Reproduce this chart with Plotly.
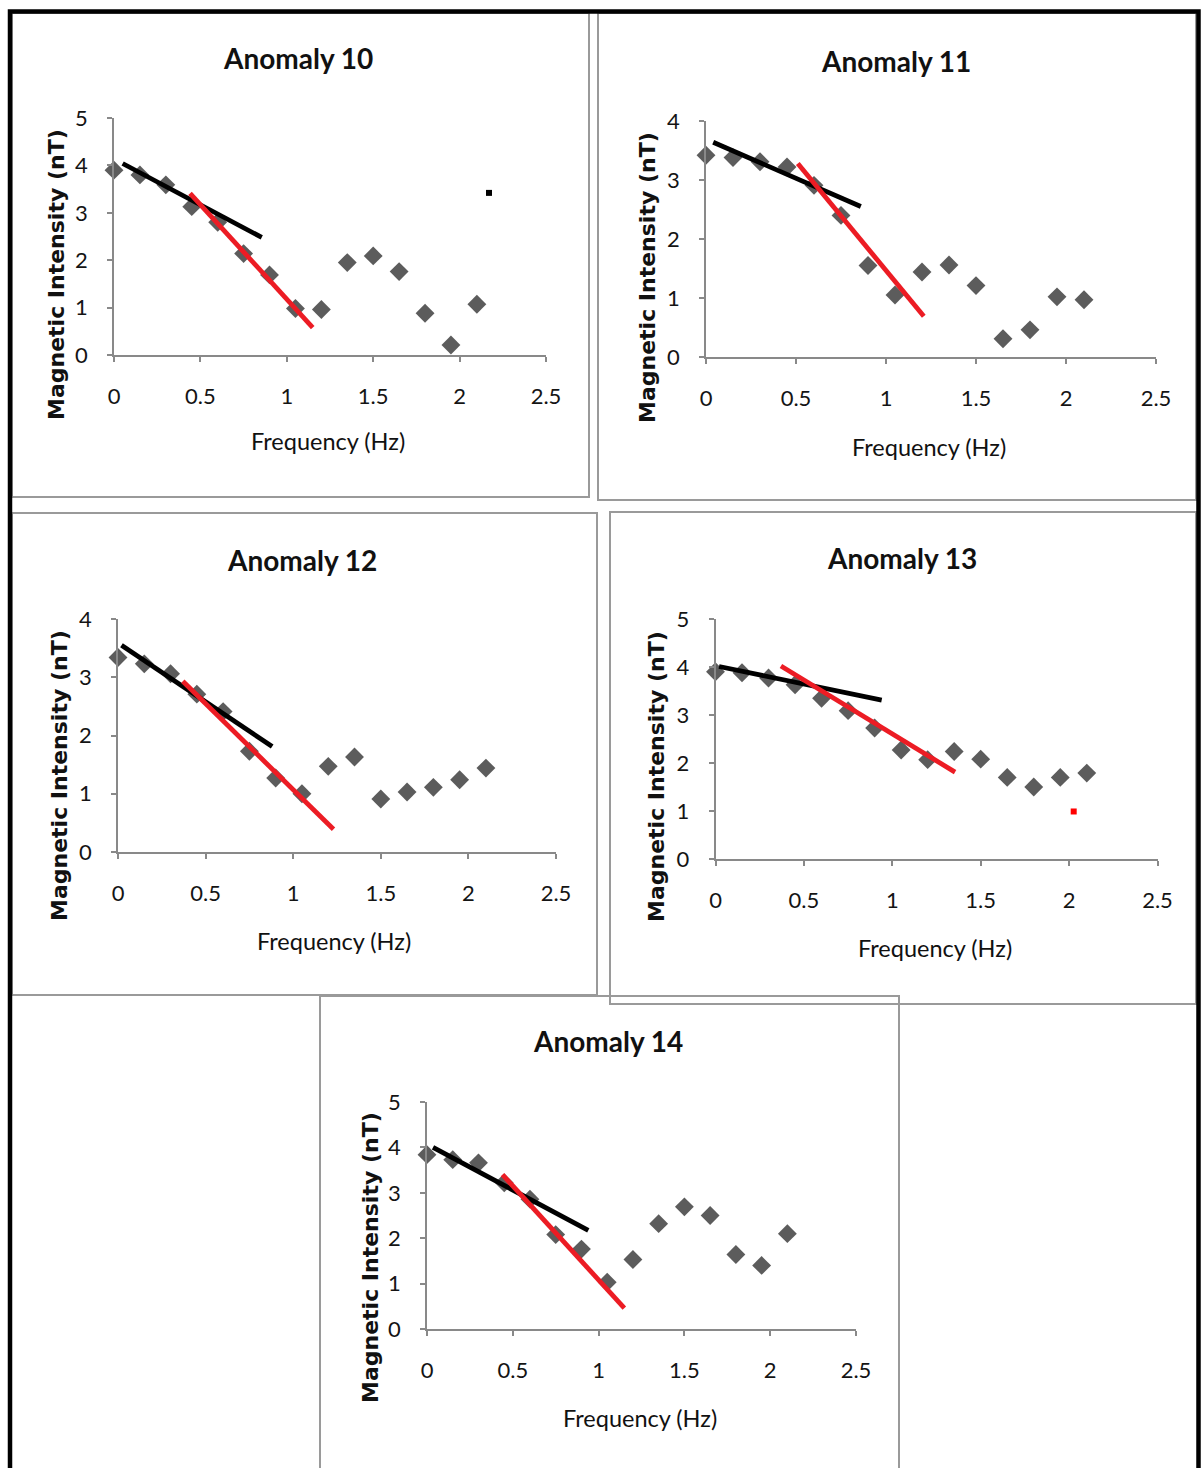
import plotly.graph_objects as go

W, H = 1203, 1468

titles = ["Anomaly 10", "Anomaly 11", "Anomaly 12", "Anomaly 13", "Anomaly 14"]
freq = [0, 0.15, 0.3, 0.45, 0.6, 0.75, 0.9, 1.05, 1.2, 1.35, 1.5, 1.65, 1.8, 1.95, 2.1]
a10 = [3.90, 3.80, 3.59, 3.13, 2.80, 2.14, 1.69, 0.98, 0.96, 1.95, 2.09, 1.76, 0.88, 0.21, 1.07]
a11 = [3.42, 3.38, 3.31, 3.22, 2.91, 2.40, 1.55, 1.05, 1.44, 1.56, 1.21, 0.31, 0.46, 1.02, 0.97]
a12 = [3.34, 3.23, 3.06, 2.71, 2.41, 1.73, 1.27, 1.00, 1.47, 1.63, 0.91, 1.03, 1.11, 1.24, 1.44]
a13 = [3.90, 3.88, 3.77, 3.63, 3.35, 3.09, 2.73, 2.27, 2.07, 2.24, 2.08, 1.70, 1.50, 1.70, 1.79]
a14 = [3.84, 3.73, 3.66, 3.22, 2.86, 2.08, 1.76, 1.03, 1.53, 2.32, 2.69, 2.50, 1.64, 1.40, 2.10]
series = [a10, a11, a12, a13, a14]

black_x = [[0.05, 0.855], [0.04, 0.86], [0.02, 0.88], [0.02, 0.94], [0.035, 0.94]]
black_y = [[4.04, 2.48], [3.64, 2.55], [3.55, 1.81], [4.01, 3.31], [4.00, 2.17]]
red_x = [[0.44, 1.15], [0.51, 1.21], [0.37, 1.23], [0.37, 1.355], [0.44, 1.15]]
red_y = [[3.41, 0.58], [3.28, 0.69], [2.93, 0.39], [4.02, 1.81], [3.40, 0.46]]

stray_panel = [0, 1, 3]
stray_x = [2.17, 2.59, 2.026]
stray_y = [3.42, -1.41, 0.99]
stray_color = ["#000000", "#ff0000", "#ff0000"]

y_max = [5, 4, 4, 5, 5]
x_ticks = [0, 0.5, 1, 1.5, 2, 2.5]
x_ticktext = ["0", "0.5", "1", "1.5", "2", "2.5"]

plot_px = [
    (114, 546, 118, 355),
    (706, 1156, 121, 357),
    (118, 556, 619, 852),
    (715.5, 1157.5, 619, 859),
    (427, 856, 1102, 1329),
]
title_pos = [(298, 58), (896, 61), (302, 560), (902, 558), (608, 1041)]
ytitle_pos = [(57, 275), (648, 278), (59, 776), (657, 777), (370, 1258)]
xtitle_pos = [(328, 441), (929, 447), (334, 941), (935, 948), (640, 1418)]
panel_box = [
    (12, 589, 13, 497),
    (598, 1196, 13, 500),
    (12, 597, 513, 995),
    (610, 1196, 512, 1004),
    (320, 899, 996, 1490),
]

def px(x):
    return x / W

def py(y):
    return 1 - y / H

FONT = "Lato, 'Open Sans', sans-serif"
YFONT = "'DejaVu Sans', sans-serif"
AX = "#898989"

fig = go.Figure()
layout = dict(
    template="none",
    width=W, height=H, autosize=False,
    margin=dict(l=0, r=0, t=0, b=0, pad=0, autoexpand=False),
    paper_bgcolor="white", plot_bgcolor="white", showlegend=False,
)
annotations = []
shapes = []

for i in range(5):
    n = "" if i == 0 else str(i + 1)
    xa, ya = "x" + n, "y" + n
    x0, x1, yt, yb = plot_px[i]
    layout["xaxis" + n] = dict(
        domain=[px(x0), px(x1)], anchor=ya, range=[0, 2.5], automargin=False,
        tickvals=x_ticks, ticktext=x_ticktext,
        showline=True, linecolor=AX, linewidth=1.5, ticks="outside", ticklen=5,
        tickcolor=AX, tickwidth=1.5, showgrid=False, zeroline=False,
        tickfont=dict(family=FONT, size=22, color="#141414"), ticklabelstandoff=16,
    )
    layout["yaxis" + n] = dict(
        domain=[py(yb), py(yt)], anchor=xa, range=[0, y_max[i]], dtick=1, automargin=False,
        showline=True, linecolor=AX, linewidth=1.5, ticks="outside", ticklen=5,
        tickcolor=AX, tickwidth=1.5, showgrid=False, zeroline=False,
        tickfont=dict(family=FONT, size=22, color="#141414"), ticklabelstandoff=15,
    )
    fig.add_trace(go.Scatter(
        x=freq, y=series[i], mode="markers", xaxis=xa, yaxis=ya, cliponaxis=False,
        marker=dict(symbol="diamond", size=14.5, color="#5c5c5c", line=dict(width=0)),
    ))
    fig.add_trace(go.Scatter(
        x=black_x[i], y=black_y[i], mode="lines", xaxis=xa, yaxis=ya, cliponaxis=False,
        line=dict(color="#000000", width=4.8),
    ))
    fig.add_trace(go.Scatter(
        x=red_x[i], y=red_y[i], mode="lines", xaxis=xa, yaxis=ya, cliponaxis=False,
        line=dict(color="#ec1c24", width=4.8),
    ))
    for k, p in enumerate(stray_panel):
        if p == i:
            fig.add_trace(go.Scatter(
                x=[stray_x[k]], y=[stray_y[k]], mode="markers", xaxis=xa, yaxis=ya,
                cliponaxis=False,
                marker=dict(symbol="square", size=6, color=stray_color[k], line=dict(width=0)),
            ))
    tx, ty = title_pos[i]
    annotations.append(dict(
        text="<b>%s</b>" % titles[i], x=px(tx), y=py(ty), xref="paper", yref="paper",
        showarrow=False, xanchor="center", yanchor="middle",
        font=dict(family=FONT, size=28, color="#111111"),
    ))
    tx, ty = ytitle_pos[i]
    annotations.append(dict(
        text="<b>Magnetic Intensity (nT)</b>", x=px(tx), y=py(ty), xref="paper", yref="paper",
        showarrow=False, xanchor="center", yanchor="middle", textangle=-90,
        font=dict(family=YFONT, size=22, color="#111111"),
    ))
    tx, ty = xtitle_pos[i]
    annotations.append(dict(
        text="Frequency (Hz)", x=px(tx), y=py(ty), xref="paper", yref="paper",
        showarrow=False, xanchor="center", yanchor="middle",
        font=dict(family=FONT, size=23.5, color="#111111"),
    ))
    bx0, bx1, by0, by1 = panel_box[i]
    shapes.append(dict(
        type="rect", xref="paper", yref="paper",
        x0=px(bx0), x1=px(bx1), y0=py(by1), y1=py(by0),
        line=dict(color="#9a9a9a", width=2), layer="below",
    ))

shapes.append(dict(
    type="rect", xref="paper", yref="paper",
    x0=px(10), x1=px(1198.5), y0=py(1500), y1=py(11.5),
    line=dict(color="#000000", width=4.5), layer="above",
))

layout["annotations"] = annotations
layout["shapes"] = shapes
fig.update_layout(**layout)
fig.write_html(
    "out.html",
    config={"responsive": False},
    post_script="document.body.style.margin='0';document.body.style.overflow='hidden';",
)
